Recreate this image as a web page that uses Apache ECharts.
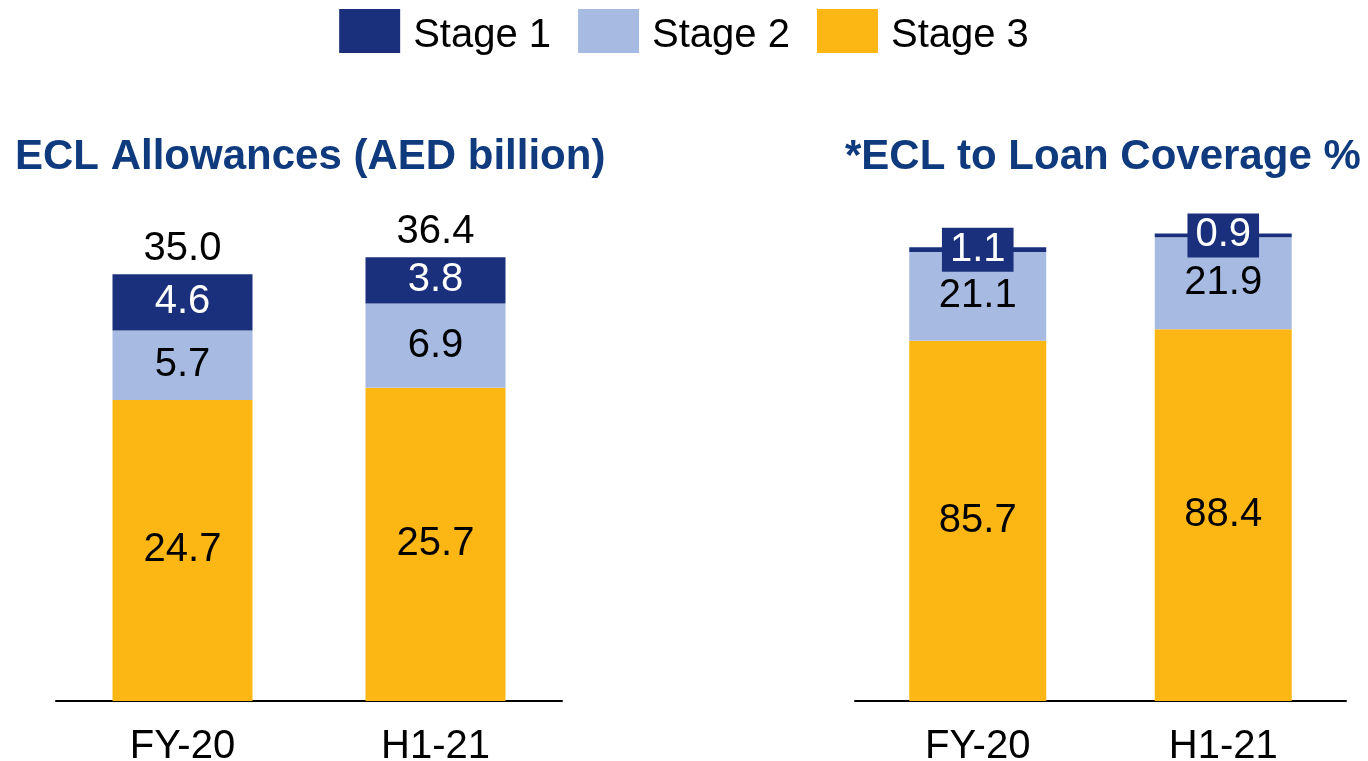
<!DOCTYPE html>
<html>
<head>
<meta charset="utf-8">
<script src="https://cdn.jsdelivr.net/npm/echarts@6/dist/echarts.min.js"></script>
<style>
  html, body { margin: 0; padding: 0; background: #fff; }
  #main { width: 1368px; height: 761px; }
</style>
</head>
<body>
<div id="main"></div>
<script>
var categories = ['FY-20', 'H1-21'];

// ECL allowances, AED billion
var eclStage1 = [4.6, 3.8];
var eclStage2 = [5.7, 6.9];
var eclStage3 = [24.7, 25.7];
var eclTotals = [35.0, 36.4];

// ECL to loan coverage %
var covStage1 = [1.1, 0.9];
var covStage2 = [21.1, 21.9];
var covStage3 = [85.7, 88.4];

var navy = '#1B307C';
var lightBlue = '#A7BAE2';
var gold = '#FDB714';
var titleBlue = '#0F3A7D';
var font = "'Liberation Sans', Arial, sans-serif";

var chart = echarts.init(document.getElementById('main'));

function fmt(p) { return p.value.toFixed(1); }

function stageSeries(name, data, color, gridIdx, opts) {
    var s = {
        name: name,
        type: 'bar',
        stack: 'g' + gridIdx,
        xAxisIndex: gridIdx,
        yAxisIndex: gridIdx,
        data: data,
        barWidth: gridIdx === 0 ? 140 : 137,
        barGap: '-100%',
        itemStyle: { color: color },
        label: {
            show: true,
            position: 'inside',
            formatter: fmt,
            fontFamily: font,
            fontSize: 40,
            color: '#000'
        }
    };
    if (opts) Object.assign(s.label, opts);
    return s;
}

chart.setOption({
    animation: false,
    textStyle: { fontFamily: font },
    legend: {
        data: ['Stage 1', 'Stage 2', 'Stage 3'],
        left: 'center',
        top: 4,
        itemWidth: 61,
        itemHeight: 44,
        itemGap: 27,
        icon: 'rect',
        formatter: '{a|{name}}',
        textStyle: {
            fontSize: 40, color: '#000', fontFamily: font,
            rich: { a: { fontSize: 40, color: '#000', fontFamily: font, padding: [10, 0, 0, 8] } }
        }
    },
    title: [
        {
            text: 'ECL Allowances (AED billion)',
            left: 10,
            top: 131,
            textStyle: { fontSize: 42, fontWeight: 'bold', color: titleBlue, fontFamily: font }
        },
        {
            text: '*ECL to Loan Coverage %',
            left: 840,
            top: 131,
            textStyle: { fontSize: 42, fontWeight: 'bold', color: titleBlue, fontFamily: font }
        }
    ],
    grid: [
        { left: 56, right: 806, top: 213.4, bottom: 60, outerBoundsMode: 'none' },
        { left: 855, right: 22, top: 196.5, bottom: 60, outerBoundsMode: 'none' }
    ],
    xAxis: [
        {
            gridIndex: 0,
            type: 'category',
            data: categories,
            axisTick: { show: false },
            axisLine: { lineStyle: { color: '#000', width: 2 } },
            axisLabel: { fontSize: 40, color: '#000', margin: 26, fontFamily: font }
        },
        {
            gridIndex: 1,
            type: 'category',
            data: categories,
            axisTick: { show: false },
            axisLine: { lineStyle: { color: '#000', width: 2 } },
            axisLabel: { fontSize: 40, color: '#000', margin: 26, fontFamily: font }
        }
    ],
    yAxis: [
        { gridIndex: 0, type: 'value', min: 0, max: 40, show: false, splitLine: { show: false } },
        { gridIndex: 1, type: 'value', min: 0, max: 120, show: false, splitLine: { show: false } }
    ],
    series: [
        stageSeries('Stage 3', eclStage3, gold, 0),
        stageSeries('Stage 2', eclStage2, lightBlue, 0),
        stageSeries('Stage 1', eclStage1, navy, 0, { color: '#fff' }),
        {
            name: 'Total',
            type: 'bar',
            xAxisIndex: 0,
            yAxisIndex: 0,
            data: eclTotals,
            barWidth: 140,
            barGap: '-100%',
            silent: true,
            z: 1,
            itemStyle: { color: 'rgba(0,0,0,0)' },
            label: {
                show: true,
                position: 'top',
                distance: 5,
                formatter: fmt,
                fontFamily: font,
                fontSize: 40,
                color: '#000'
            }
        },
        stageSeries('Stage 3', covStage3, gold, 1),
        stageSeries('Stage 2', covStage2, lightBlue, 1),
        stageSeries('Stage 1', covStage1, navy, 1, {
            color: '#fff',
            backgroundColor: navy,
            padding: [3, 8, 1, 8]
        })
    ]
});
</script>
</body>
</html>
